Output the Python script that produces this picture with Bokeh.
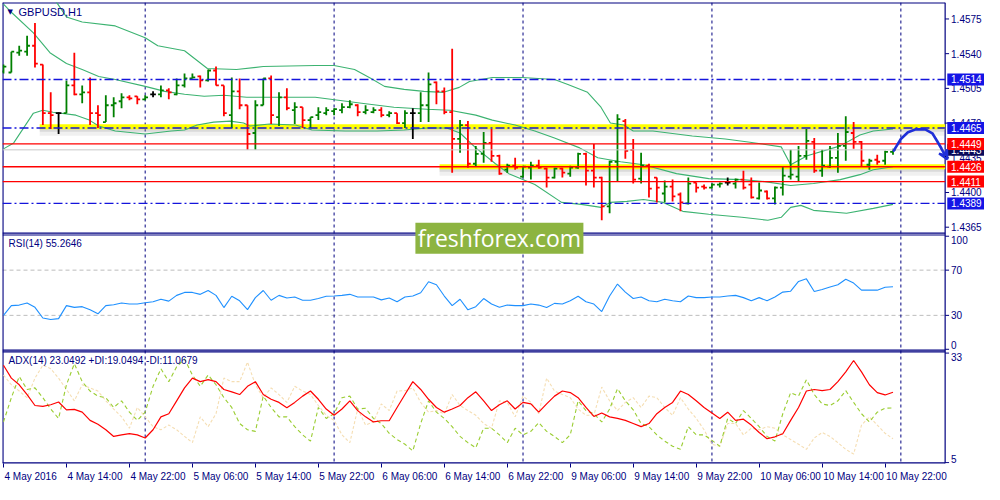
from bokeh.plotting import figure
from bokeh.models import (Range1d, FixedTicker, Span, Label, Arrow, VeeHead, ColumnDataSource)
from bokeh.embed import file_html
from bokeh.resources import INLINE
from bokeh.core.properties import value

# ---------------- texts ----------------
symbol_title = "GBPUSD,H1"
rsi_title = "RSI(14) 55.2646"
adx_title = "ADX(14) 23.0492 +DI:19.0494 -DI:11.0679"
watermark_text = "freshforex.com"

# ---------------- price bars (H1) ----------------
opens = [1.4522, 1.4521, 1.4541, 1.4542, 1.4548, 1.4529, 1.4480, 1.4480, 1.4480, 1.4508,
         1.4499, 1.4501, 1.4480, 1.4471, 1.4488, 1.4492, 1.4496, 1.4497, 1.4494, 1.4499,
         1.4499, 1.4503, 1.4499, 1.4508, 1.4515, 1.4517, 1.4513, 1.4523, 1.4508, 1.4478,
         1.4502, 1.4488, 1.4460, 1.4488, 1.4515, 1.4476, 1.4496, 1.4483, 1.4486, 1.4473,
         1.4478, 1.4480, 1.4482, 1.4483, 1.4486, 1.4488, 1.4481, 1.4481, 1.4483, 1.4478,
         1.4480, 1.4470, 1.4480, 1.4480, 1.4488, 1.4511, 1.4502, 1.4481, 1.4454, 1.4468,
         1.4429, 1.4439, 1.4450, 1.4437, 1.4423, 1.4427, 1.4416, 1.4425, 1.4427, 1.4424,
         1.4415, 1.4424, 1.4419, 1.4425, 1.4439, 1.4422, 1.4415, 1.4386, 1.4431, 1.4472,
         1.4443, 1.4414, 1.4427, 1.4415, 1.4399, 1.4406, 1.4398, 1.4389, 1.4410, 1.4406,
         1.4405, 1.4408, 1.4410, 1.4409, 1.4413, 1.4408, 1.4394, 1.4401, 1.4394, 1.4405,
         1.4416, 1.4416, 1.4437, 1.4451, 1.4422, 1.4426, 1.4435, 1.4447, 1.4460, 1.4451,
         1.4428, 1.4433, 1.4432, 1.4441]
highs = [1.4529, 1.4542, 1.4548, 1.4558, 1.4571, 1.4529, 1.4501, 1.4481, 1.4513, 1.4541,
         1.4508, 1.4516, 1.4488, 1.4498, 1.4496, 1.4500, 1.4498, 1.4497, 1.4498, 1.4502,
         1.4508, 1.4505, 1.4515, 1.4520, 1.4520, 1.4518, 1.4524, 1.4527, 1.4508, 1.4516,
         1.4515, 1.4488, 1.4493, 1.4515, 1.4518, 1.4501, 1.4505, 1.4491, 1.4486, 1.4476,
         1.4486, 1.4486, 1.4485, 1.4490, 1.4493, 1.4489, 1.4488, 1.4486, 1.4486, 1.4482,
         1.4480, 1.4483, 1.4485, 1.4501, 1.4521, 1.4512, 1.4506, 1.4545, 1.4473, 1.4472,
         1.4447, 1.4461, 1.4464, 1.4438, 1.4429, 1.4435, 1.4427, 1.4431, 1.4433, 1.4425,
         1.4425, 1.4425, 1.4427, 1.4440, 1.4440, 1.4449, 1.4416, 1.4432, 1.4479, 1.4474,
         1.4454, 1.4440, 1.4429, 1.4415, 1.4412, 1.4413, 1.4400, 1.4415, 1.4410, 1.4408,
         1.4409, 1.4410, 1.4415, 1.4414, 1.4422, 1.4415, 1.4410, 1.4402, 1.4406, 1.4426,
         1.4443, 1.4447, 1.4464, 1.4455, 1.4443, 1.4447, 1.4460, 1.4477, 1.4471, 1.4452,
         1.4434, 1.4438, 1.4442, 1.4444]
lows = [1.4520, 1.4521, 1.4538, 1.4538, 1.4526, 1.4468, 1.4464, 1.4459, 1.4480, 1.4498,
        1.4490, 1.4468, 1.4465, 1.4471, 1.4476, 1.4485, 1.4493, 1.4489, 1.4493, 1.4496,
        1.4496, 1.4494, 1.4498, 1.4506, 1.4515, 1.4506, 1.4512, 1.4508, 1.4477, 1.4465,
        1.4484, 1.4443, 1.4443, 1.4488, 1.4469, 1.4467, 1.4483, 1.4469, 1.4465, 1.4465,
        1.4473, 1.4478, 1.4478, 1.4480, 1.4485, 1.4477, 1.4479, 1.4480, 1.4476, 1.4476,
        1.4469, 1.4465, 1.4454, 1.4471, 1.4471, 1.4489, 1.4479, 1.4420, 1.4440, 1.4425,
        1.4426, 1.4430, 1.4431, 1.4418, 1.4420, 1.4423, 1.4415, 1.4413, 1.4424, 1.4405,
        1.4414, 1.4415, 1.4416, 1.4424, 1.4407, 1.4405, 1.4372, 1.4379, 1.4411, 1.4434,
        1.4409, 1.4409, 1.4395, 1.4390, 1.4390, 1.4391, 1.4381, 1.4388, 1.4400, 1.4403,
        1.4404, 1.4405, 1.4407, 1.4404, 1.4403, 1.4394, 1.4393, 1.4393, 1.4388, 1.4397,
        1.4413, 1.4411, 1.4433, 1.4420, 1.4416, 1.4425, 1.4420, 1.4432, 1.4444, 1.4426,
        1.4423, 1.4428, 1.4428, 1.4438]
closes = [1.4527, 1.4542, 1.4543, 1.4548, 1.4530, 1.4480, 1.4478, 1.4480, 1.4508, 1.4499,
          1.4501, 1.4480, 1.4478, 1.4488, 1.4490, 1.4496, 1.4495, 1.4494, 1.4496, 1.4499,
          1.4503, 1.4501, 1.4508, 1.4515, 1.4516, 1.4513, 1.4523, 1.4508, 1.4480, 1.4502,
          1.4488, 1.4459, 1.4488, 1.4515, 1.4478, 1.4496, 1.4485, 1.4486, 1.4473, 1.4476,
          1.4481, 1.4483, 1.4484, 1.4486, 1.4489, 1.4481, 1.4483, 1.4483, 1.4478, 1.4480,
          1.4470, 1.4480, 1.4480, 1.4488, 1.4509, 1.4502, 1.4481, 1.4454, 1.4468, 1.4429,
          1.4439, 1.4450, 1.4437, 1.4419, 1.4427, 1.4425, 1.4426, 1.4427, 1.4425, 1.4415,
          1.4424, 1.4420, 1.4425, 1.4439, 1.4422, 1.4415, 1.4386, 1.4431, 1.4474, 1.4442,
          1.4413, 1.4427, 1.4404, 1.4405, 1.4406, 1.4396, 1.4390, 1.4409, 1.4405, 1.4405,
          1.4408, 1.4409, 1.4410, 1.4413, 1.4405, 1.4395, 1.4402, 1.4394, 1.4405, 1.4417,
          1.4418, 1.4437, 1.4452, 1.4422, 1.4427, 1.4435, 1.4447, 1.4461, 1.4451, 1.4432,
          1.4432, 1.4431, 1.4441, 1.4443]

# ---------------- Bollinger bands ----------------
bb_upper_x = [5.5, 6.9, 8.0, 10.0, 14.2, 18.0, 19.6, 23.0, 25.9, 29.6, 33.0, 39.6, 42.0, 44.6,
              46.7, 48.4, 50.9, 53.4, 55.9, 57.9, 59.2, 62.1, 65.9, 70.0, 71.7, 74.2, 75.9,
              77.1, 78.8, 80.0, 82.5, 87.5, 91.7, 94.6, 98.8, 100.0, 102.1, 106.3, 108.8,
              110.5, 113.0]
bb_upper_y = [1.4605, 1.4590, 1.4577, 1.4572, 1.4568, 1.4556, 1.4548, 1.4543, 1.4525, 1.4524,
              1.4527, 1.4528, 1.4528, 1.4524, 1.4515, 1.4507, 1.4504, 1.4502, 1.4501, 1.4506,
              1.4512, 1.4516, 1.4516, 1.4514, 1.4509, 1.4501, 1.4486, 1.4470, 1.4468, 1.4462,
              1.4462, 1.4457, 1.4454, 1.4451, 1.4446, 1.4428, 1.4437, 1.4447, 1.4458, 1.4462,
              1.4464]
bb_mid_x = [0.0, 1.1, 3.8, 5.9, 8.0, 10.0, 12.1, 14.2, 18.0, 20.5, 23.0, 25.5, 28.0, 30.9,
            39.6, 45.5, 49.6, 53.8, 56.7, 60.0, 62.1, 65.0, 67.5, 70.0, 73.2, 75.5, 78.4,
            81.3, 85.5, 89.6, 93.8, 96.7, 100.0, 102.9, 106.3, 108.8, 110.5, 113.0]
bb_mid_y = [1.4590, 1.4581, 1.4561, 1.4541, 1.4530, 1.4524, 1.4517, 1.4514, 1.4507, 1.4502,
            1.4499, 1.4497, 1.4498, 1.4496, 1.4496, 1.4490, 1.4486, 1.4484, 1.4483, 1.4478,
            1.4473, 1.4468, 1.4462, 1.4455, 1.4445, 1.4435, 1.4431, 1.4428, 1.4419, 1.4414,
            1.4413, 1.4411, 1.4407, 1.4409, 1.4413, 1.4418, 1.4423, 1.4426]
bb_low_x = [0.0, 1.3, 3.8, 5.0, 6.3, 9.2, 10.9, 12.1, 14.2, 18.0, 21.3, 23.0, 24.6, 26.7,
            28.8, 30.5, 31.3, 33.8, 37.1, 39.2, 43.4, 47.5, 50.9, 53.8, 56.3, 58.0, 60.0,
            62.5, 64.2, 67.5, 70.9, 73.4, 75.9, 77.1, 79.2, 81.3, 83.8, 86.3, 89.6, 93.8,
            97.1, 98.8, 100.0, 101.3, 102.9, 107.1, 110.5, 113.0]
bb_low_y = [1.4444, 1.4450, 1.4480, 1.4483, 1.4481, 1.4478, 1.4473, 1.4467, 1.4462, 1.4459,
            1.4462, 1.4463, 1.4468, 1.4471, 1.4472, 1.4470, 1.4467, 1.4469, 1.4468, 1.4463,
            1.4462, 1.4462, 1.4463, 1.4465, 1.4465, 1.4460, 1.4445, 1.4429, 1.4419, 1.4408,
            1.4390, 1.4388, 1.4385, 1.4390, 1.4391, 1.4393, 1.4390, 1.4381, 1.4378, 1.4375,
            1.4372, 1.4375, 1.4385, 1.4387, 1.4382, 1.4379, 1.4384, 1.4388]

# ---------------- RSI(14) ----------------
rsi = [30.0, 38.6, 39.1, 40.9, 37.1, 27.7, 26.3, 27.1, 38.6, 37.1,
       37.7, 34.9, 31.4, 38.6, 39.4, 40.9, 40.0, 40.0, 41.1, 42.0,
       44.3, 42.6, 47.7, 50.3, 50.3, 48.6, 52.0, 47.7, 36.9, 46.9,
       42.9, 35.1, 45.7, 52.0, 43.4, 47.7, 45.4, 46.3, 43.4, 43.4,
       44.9, 46.9, 47.1, 47.7, 48.6, 46.3, 46.3, 46.3, 43.7, 45.4,
       42.0, 46.3, 47.1, 50.0, 59.7, 57.1, 47.1, 38.6, 44.3, 34.9,
       37.7, 44.9, 40.0, 37.1, 39.1, 38.6, 38.6, 40.0, 39.1, 36.9,
       40.6, 40.0, 42.9, 46.9, 42.0, 40.0, 33.4, 47.1, 57.7, 50.6,
       44.9, 46.3, 42.9, 42.0, 44.3, 42.9, 42.0, 47.1, 45.7, 45.7,
       46.3, 46.3, 47.1, 47.7, 45.7, 42.9, 45.7, 42.9, 46.3, 50.6,
       51.4, 60.0, 62.3, 51.1, 52.9, 55.1, 57.1, 62.0, 58.6, 52.3,
       52.3, 52.3, 54.9, 55.3]

# ---------------- ADX(14) ----------------
adx = [29.9, 26.6, 24.9, 22.4, 19.6, 19.4, 19.8, 20.5, 18.5, 18.6,
       17.9, 15.8, 14.8, 13.4, 11.7, 12.1, 12.4, 12.1, 11.3, 13.4,
       16.7, 17.5, 20.8, 24.1, 26.6, 25.7, 26.2, 25.7, 23.7, 23.1,
       22.4, 24.5, 25.7, 22.4, 21.2, 20.4, 19.0, 20.4, 22.0, 23.3,
       21.2, 18.7, 17.1, 18.7, 20.8, 18.3, 16.7, 15.4, 15.7, 15.7,
       19.1, 22.4, 25.7, 23.7, 21.2, 19.1, 17.9, 18.7, 19.6, 21.6,
       23.1, 20.8, 18.3, 19.8, 20.8, 18.7, 20.4, 20.0, 17.9, 20.0,
       22.0, 23.3, 22.9, 21.6, 19.1, 16.8, 17.7, 16.7, 16.3, 15.8,
       15.0, 14.2, 15.0, 17.5, 19.1, 20.4, 23.3, 22.4, 20.8, 19.1,
       17.7, 16.3, 17.9, 15.8, 16.1, 14.6, 12.7, 11.1, 11.6, 12.4,
       15.8, 19.1, 23.3, 23.7, 23.4, 23.7, 25.7, 28.2, 31.1, 28.2,
       24.9, 22.9, 22.3, 23.0]
plus_di = [15.4, 21.6, 27.0, 23.7, 24.1, 21.6, 18.7, 16.3, 24.9, 30.3,
           25.7, 23.3, 22.0, 21.6, 19.1, 20.8, 17.9, 15.8, 17.9, 24.5,
           29.0, 25.7, 29.5, 31.5, 27.4, 24.5, 27.4, 24.9, 21.6, 19.1,
           15.0, 13.4, 13.0, 22.0, 19.1, 16.7, 16.7, 14.2, 12.1, 10.5,
           19.1, 16.3, 17.5, 21.6, 22.0, 18.7, 18.9, 16.3, 15.0, 12.5,
           10.9, 9.7, 8.0, 15.0, 20.8, 17.9, 16.3, 14.2, 11.7, 10.1,
           8.8, 13.8, 13.8, 12.1, 10.1, 13.8, 12.1, 13.0, 15.2, 13.0,
           11.7, 10.1, 12.1, 20.8, 18.3, 17.5, 15.4, 18.7, 23.9, 20.8,
           18.5, 15.0, 14.2, 12.1, 10.5, 9.2, 8.4, 14.2, 12.1, 12.1,
           10.7, 9.2, 16.3, 15.0, 18.3, 16.3, 14.2, 11.7, 10.5, 17.5,
           22.9, 22.0, 26.2, 22.4, 20.0, 19.6, 20.8, 23.4, 20.4, 17.5,
           15.4, 17.9, 18.9, 19.0]
minus_di = [27.4, 24.9, 23.3, 21.6, 26.6, 29.9, 29.0, 26.6, 23.7, 20.8,
            24.9, 24.1, 23.3, 20.8, 18.7, 16.7, 13.8, 19.1, 16.7, 14.2,
            13.4, 14.6, 13.4, 11.7, 10.1, 16.7, 14.2, 17.5, 26.6, 25.7,
            25.7, 30.7, 24.9, 21.6, 24.1, 22.4, 20.4, 24.5, 23.3, 22.4,
            19.6, 17.1, 15.8, 12.1, 10.1, 18.7, 14.6, 15.4, 20.0, 18.3,
            23.3, 23.4, 24.1, 20.4, 17.9, 18.3, 17.5, 22.4, 19.6, 18.3,
            17.1, 15.0, 13.8, 20.8, 20.4, 16.7, 22.0, 20.4, 17.5, 26.6,
            23.3, 22.4, 21.6, 18.7, 17.1, 17.1, 24.3, 20.8, 18.3, 20.4,
            21.6, 19.1, 22.0, 21.6, 19.1, 17.1, 21.6, 18.7, 16.3, 13.4,
            9.7, 9.2, 15.0, 15.0, 12.1, 13.8, 13.4, 14.2, 13.8, 12.1,
            10.9, 9.7, 8.4, 11.3, 12.7, 11.7, 10.1, 8.4, 7.2, 14.6,
            16.7, 14.6, 12.5, 11.1]

# ---------------- axes / ticks ----------------
time_tick_bars = [0, 8, 16, 24, 32, 40, 48, 56, 64, 72, 80, 88, 96, 104, 112]
time_tick_labels = ["4 May 2016", "4 May 14:00", "4 May 22:00", "5 May 06:00", "5 May 14:00",
                    "5 May 22:00", "6 May 06:00", "6 May 14:00", "6 May 22:00", "9 May 06:00",
                    "9 May 14:00", "9 May 22:00", "10 May 06:00", "10 May 14:00", "10 May 22:00"]
day_break_bars = [18, 42, 66, 90, 114]
price_ticks = [1.4365, 1.4400, 1.4435, 1.4470, 1.4505, 1.4540, 1.4575]
rsi_levels = [70, 30]
rsi_scale = [100, 70, 30, 0]
adx_scale = [33, 5]

# ---------------- drawn objects ----------------
blue_levels = [1.4514, 1.4465, 1.4389]
red_levels = [1.4449, 1.4426, 1.4411]
bid_level = 1.4443
zone_levels = [1.44662, 1.4426]
zone_start_bars = [4.6, 55.4]
forecast_x = [113.1, 114.0, 114.9, 115.9, 117.1, 118.0, 118.6, 119.1]
forecast_y = [1.44422, 1.44539, 1.44607, 1.44637, 1.44637, 1.44597, 1.44519, 1.44451]
forecast_tip = (119.9, 1.44334)

# price tags on the right scale, in drawing order
tag_values = [1.4514, 1.4465, 1.4443, 1.4449, 1.4426, 1.4411, 1.4389]
tag_colors = ["#1414E6", "#1414E6", "#0A0A5A", "#FF0000", "#FF0000", "#FF0000", "#1414E6"]

# ---------------- view geometry ----------------
X_START, X_END = -0.125, 124.625      # whole width incl. the price scale strip
AXIS_X = 119.625                      # position of the price scale line
MAIN_LO, MAIN_HI = 1.41267, 1.45916
RSI_LO, RSI_HI = -101.0, 306.7
ADX_LO, ADX_HI = 4.78, 122.6
MAIN_BOTTOM = 1.43591
RSI_TOP, RSI_BOTTOM = 101.1, -0.8
ADX_TOP = 33.32
TICK_LEN = 0.5
LABEL_X = 120.375
TAG_X = 122.25

NAVY = "#000080"
GREEN = "#008000"
RED = "#FF0000"
BB = "#3CB371"
FONT = "Liberation Sans"

p = figure(width=984, height=484, output_backend="svg", toolbar_location=None,
           x_range=Range1d(X_START, X_END), y_range=Range1d(MAIN_LO, MAIN_HI),
           y_axis_location=None, min_border_left=2, min_border_top=2,
           min_border_right=0, min_border_bottom=16)
p.extra_y_ranges = {"rsi": Range1d(RSI_LO, RSI_HI), "adx": Range1d(ADX_LO, ADX_HI)}
p.background_fill_color = "white"
p.border_fill_color = "white"
p.outline_line_color = None
p.xgrid.visible = False
p.ygrid.visible = False

# time axis: labels start at their tick (MT4 style)
CHAR_W = {" ": 2.78, ":": 2.78, "M": 8.33, "a": 5.56, "y": 5.0}
px_per_bar = 982.0 / (X_END - X_START)
label_centres = []
for b, t in zip(time_tick_bars, time_tick_labels):
    w = sum(CHAR_W.get(ch, 5.56) for ch in t)
    label_centres.append(round(b + (w / 2 + 1) / px_per_bar, 3))
xa = p.xaxis[0]
xa.ticker = FixedTicker(ticks=label_centres, minor_ticks=time_tick_bars)
xa.major_label_overrides = {c: t for c, t in zip(label_centres, time_tick_labels)}
xa.axis_line_color = None
xa.major_tick_line_color = None
xa.minor_tick_line_color = NAVY
xa.minor_tick_out = 4
xa.minor_tick_in = 0
xa.major_label_standoff = 1
xa.major_label_text_color = NAVY
xa.major_label_text_font = FONT
xa.major_label_text_font_size = "10px"

# frame borders, separators, grids
p.add_layout(Span(location=X_START, dimension="height", line_color=NAVY, line_width=2.2,
                  level="underlay"))
p.add_layout(Span(location=AXIS_X, dimension="height", line_color=NAVY, line_width=1.2,
                  level="underlay"))
borders = [(MAIN_HI, "default", 2.2), (MAIN_BOTTOM, "default", 1.2), (RSI_TOP, "rsi", 1.2),
           (RSI_BOTTOM, "rsi", 1.2), (ADX_TOP, "adx", 1.2), (ADX_LO, "adx", 2.4)]
for loc, rng, w in borders:
    p.segment(x0=[X_START], y0=[loc], x1=[AXIS_X], y1=[loc], y_range_name=rng,
              line_color=NAVY, line_width=w, level="underlay")
for b in day_break_bars:
    p.add_layout(Span(location=b, dimension="height", line_color=NAVY,
                      line_dash="3 3", line_width=1, level="underlay"))
for lv in rsi_levels:
    p.segment(x0=[X_START], y0=[lv], x1=[AXIS_X], y1=[lv], y_range_name="rsi",
              line_color="#BDBDBD", line_dash="4 3", line_width=1, level="underlay")

# yellow zones with soft shadow
zsrc = ColumnDataSource(dict(x0=zone_start_bars, x1=[AXIS_X] * len(zone_levels), y=zone_levels,
                             ys=[z - 0.00045 for z in zone_levels],
                             ys2=[z - 0.00025 for z in zone_levels]))
p.segment(x0="x0", y0="ys", x1="x1", y1="ys", source=zsrc, line_color="#808080",
          line_alpha=0.12, line_width=9)
p.segment(x0="x0", y0="ys2", x1="x1", y1="ys2", source=zsrc, line_color="#808080",
          line_alpha=0.2, line_width=5)
p.segment(x0="x0", y0="y", x1="x1", y1="y", source=zsrc, line_color="#FFFF00",
          line_width=5)

# Bollinger bands
p.line(bb_upper_x, bb_upper_y, line_color=BB, line_width=1.1)
p.line(bb_mid_x, bb_mid_y, line_color=BB, line_width=1.1)
p.line(bb_low_x, bb_low_y, line_color=BB, line_width=1.1)

# OHLC bars
bars = list(range(len(closes)))
colors = [GREEN if c > o else (RED if c < o else "black") for o, c in zip(opens, closes)]
src = ColumnDataSource(dict(x=bars, xl=[b - 0.36 for b in bars], xr=[b + 0.36 for b in bars],
                            o=opens, h=highs, l=lows, c=closes, col=colors))
p.segment(x0="x", y0="h", x1="x", y1="l", source=src, line_color="col", line_width=1.8)
p.segment(x0="xl", y0="o", x1="x", y1="o", source=src, line_color="col", line_width=1.8)
p.segment(x0="x", y0="c", x1="xr", y1="c", source=src, line_color="col", line_width=1.8)

# RSI
p.line(list(range(len(rsi))), rsi, y_range_name="rsi", line_color="#1E90FF", line_width=1.1)

# ADX
p.line(list(range(len(minus_di))), minus_di, y_range_name="adx", line_color="#F5DEB3",
       line_width=1.1, line_dash="3 2")
p.line(list(range(len(plus_di))), plus_di, y_range_name="adx", line_color="#9ACD32",
       line_width=1.1, line_dash="4 3")
p.line(list(range(len(adx))), adx, y_range_name="adx", line_color="#FF0000", line_width=1.2)

# horizontal levels (above bars)
n_b, n_r = len(blue_levels), len(red_levels)
p.segment(x0=[X_START] * n_b, y0=blue_levels, x1=[AXIS_X] * n_b, y1=blue_levels,
          line_color="#1414DC", line_dash="9 3 2 3", line_width=1.4)
p.segment(x0=[X_START] * n_r, y0=red_levels, x1=[AXIS_X] * n_r, y1=red_levels,
          line_color=RED, line_width=1.4)
p.segment(x0=[X_START], y0=[bid_level], x1=[AXIS_X], y1=[bid_level],
          line_color="#C8C8C8", line_width=1)

# hand-drawn forecast arrow
p.line(forecast_x, forecast_y, line_color="#1F2FD8", line_width=2.6, line_cap="round")
p.add_layout(Arrow(end=VeeHead(size=9, line_color="#1F2FD8", line_width=2.4),
                   x_start=forecast_x[-1], y_start=forecast_y[-1],
                   x_end=forecast_tip[0], y_end=forecast_tip[1],
                   line_color="#1F2FD8", line_width=2.6))

# price scale (right strip)
n_t = len(price_ticks)
p.segment(x0=[AXIS_X] * n_t, y0=price_ticks, x1=[AXIS_X + TICK_LEN] * n_t, y1=price_ticks,
          line_color=NAVY, line_width=1)
p.text(x=[LABEL_X] * n_t, y=price_ticks, text=[f"{v:.4f}" for v in price_ticks],
       text_color=NAVY, text_font=value(FONT), text_font_size="10px",
       text_align="left", text_baseline="middle")
p.segment(x0=[AXIS_X] * len(rsi_scale), y0=rsi_scale, x1=[AXIS_X + TICK_LEN] * len(rsi_scale),
          y1=rsi_scale, y_range_name="rsi", line_color=NAVY, line_width=1)
p.text(x=[LABEL_X] * len(rsi_scale), y=rsi_scale, text=[str(v) for v in rsi_scale],
       y_range_name="rsi", text_color=NAVY, text_font=value(FONT), text_font_size="10px",
       text_align="left",
       text_baseline=["top" if v == max(rsi_scale) else ("bottom" if v == min(rsi_scale)
                                                          else "middle") for v in rsi_scale])
p.segment(x0=[AXIS_X] * len(adx_scale), y0=adx_scale, x1=[AXIS_X + TICK_LEN] * len(adx_scale),
          y1=adx_scale, y_range_name="adx", line_color=NAVY, line_width=1)
p.text(x=[LABEL_X] * len(adx_scale), y=adx_scale, text=[str(v) for v in adx_scale],
       y_range_name="adx", text_color=NAVY, text_font=value(FONT), text_font_size="10px",
       text_align="left",
       text_baseline=["top" if v == max(adx_scale) else "bottom" for v in adx_scale])

# price tags
for v, col in zip(tag_values, tag_colors):
    p.rect(x=[TAG_X], y=[v], width=37, height=12, width_units="screen", height_units="screen",
           fill_color=col, line_color=None)
    p.text(x=[LABEL_X], y=[v], text=[f"{v:.4f}"], text_color="white", text_font=value(FONT),
           text_font_size="10px", text_align="left", text_baseline="middle")

# watermark
wm_x, wm_y = 63.0, 1.43538
p.rect(x=[wm_x], y=[wm_y], width=168, height=31, width_units="screen", height_units="screen",
       fill_color="#8DB441", line_color=None)
p.text(x=[wm_x], y=[wm_y], text=[watermark_text], text_color="white",
       text_font=value("Open Sans"), text_font_size="23px", text_align="center",
       text_baseline="middle")

# panel titles
p.add_layout(Label(x=X_START, y=MAIN_HI, x_offset=5, y_offset=-5, text="\u25BC",
                   text_font="DejaVu Sans", text_font_size="7px", text_color=NAVY,
                   text_baseline="top"))
p.add_layout(Label(x=X_START, y=MAIN_HI, x_offset=16, y_offset=-3, text=symbol_title,
                   text_font=FONT, text_font_size="11px", text_color=NAVY, text_baseline="top"))
p.add_layout(Label(x=X_START, y=RSI_TOP, y_range_name="rsi", x_offset=6, y_offset=-3,
                   text=rsi_title, text_font=FONT, text_font_size="10px", text_color=NAVY,
                   text_baseline="top"))
p.add_layout(Label(x=X_START, y=ADX_TOP, y_range_name="adx", x_offset=6, y_offset=-3,
                   text=adx_title, text_font=FONT, text_font_size="10px", text_color=NAVY,
                   text_baseline="top"))

open("out.html", "w").write(file_html(p, INLINE))
